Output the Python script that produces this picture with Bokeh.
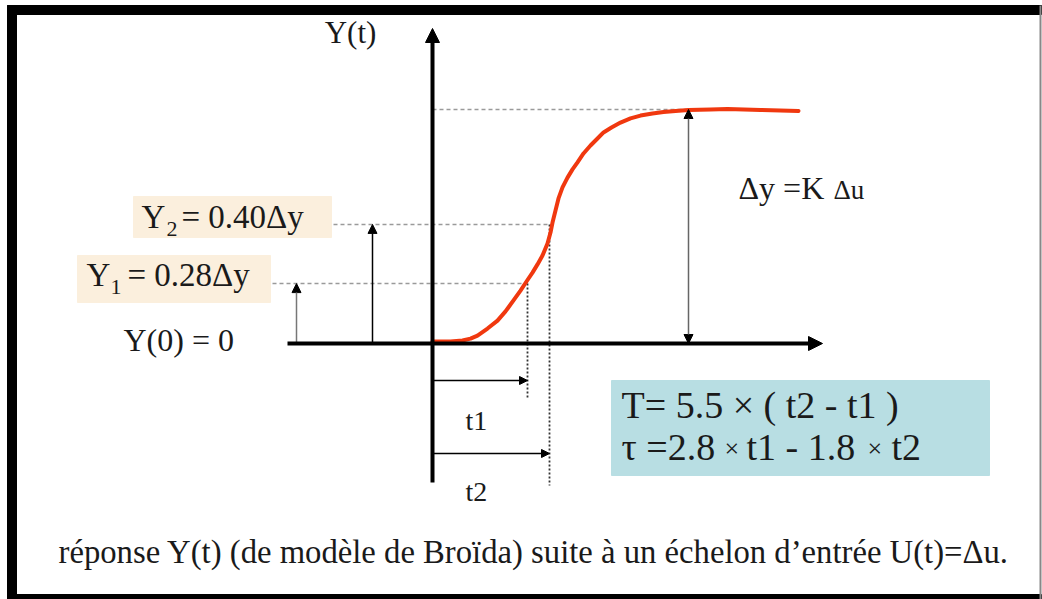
from bokeh.plotting import figure
from bokeh.models import Range1d, Arrow, NormalHead
from bokeh.core.properties import value
from bokeh.embed import file_html
from bokeh.resources import INLINE

# ---------------- data (t in arbitrary time units, y as fraction of Δy) ----------------
t_curve = [0, 1.8, 3.0, 3.8, 4.5, 5.5, 6.5, 7.3, 8.1, 8.8, 9.4, 10.0, 10.5, 11.0, 11.5,
           11.8, 12.0, 12.3, 12.6, 13.0, 13.5, 14.0, 14.5, 15.1, 15.8, 16.5, 17.1, 17.9,
           18.8, 19.8, 20.8, 22.0, 23.1, 24.3, 25.6, 27.8, 29.5, 32.8, 36.6]
y_curve = [0.009, 0.009, 0.013, 0.021, 0.034, 0.064, 0.098, 0.137, 0.184, 0.226, 0.265,
           0.303, 0.338, 0.376, 0.427, 0.474, 0.517, 0.568, 0.620, 0.667, 0.709, 0.744,
           0.774, 0.812, 0.846, 0.876, 0.902, 0.923, 0.944, 0.962, 0.974, 0.983, 0.989,
           0.994, 0.998, 1.0, 1.002, 0.998, 0.994]
t1_val, t2_val = 9.5, 11.7
y1_level, y2_level, dy_level = 0.256, 0.509, 1.0

label_yt = "Y(t)"
label_y0 = "Y(0) = 0"
label_y1 = ["Y", "1", "= 0.28\u0394y"]
label_y2 = ["Y", "2", "= 0.40\u0394y"]
label_t1, label_t2 = "t1", "t2"
label_dy = ["\u0394y =K", "\u0394u"]
formula_1 = "T= 5.5 \u00d7 ( t2 - t1 )"
formula_2 = ["\u03c4 =2.8", "\u00d7", "t1 - 1.8", "\u00d7", "t2"]
caption = "réponse Y(t) (de modèle de Broïda) suite à un échelon d\u2019entrée U(t)=\u0394u."

# ---------------- layout helpers (reference pixels -> data units) ----------------
PX, PY = 10.0, 234.0
OX, OY = 432.0, 343.0
def X(px): return (px - OX) / PX
def Y(py): return (OY - py) / PY

W, H = 1042, 599
FONT = value("Liberation Serif")
INK = "#1a1a1a"

p = figure(width=W, height=H, x_range=Range1d(X(0), X(W)), y_range=Range1d(Y(H), Y(0)),
           output_backend="svg", toolbar_location=None, min_border=0,
           min_border_left=0, min_border_right=0, min_border_top=0, min_border_bottom=0)
p.xaxis.visible = False
p.yaxis.visible = False
p.grid.visible = False
p.outline_line_color = None
p.background_fill_color = "white"
p.border_fill_color = "white"

# frame
p.quad(left=[X(7)], right=[X(1041)], top=[Y(5)], bottom=[Y(14)], color="black")
p.quad(left=[X(7)], right=[X(16)], top=[Y(5)], bottom=[Y(599)], color="black")
p.quad(left=[X(7)], right=[X(1041)], top=[Y(594)], bottom=[Y(599)], color="black")
p.segment(x0=[X(1040)], y0=[Y(5)], x1=[X(1040)], y1=[Y(599)], line_color="#888888", line_width=2)

# coloured boxes
p.quad(left=[X(133)], right=[X(331)], top=[Y(196)], bottom=[Y(237)], color="#FBEFDD")
p.quad(left=[X(77)], right=[X(270)], top=[Y(255)], bottom=[Y(302)], color="#FBEFDD")
p.quad(left=[X(611)], right=[X(989)], top=[Y(380)], bottom=[Y(475)], color="#B8DEE3")

# dotted guide lines
p.segment(x0=[0, X(333), X(272)], y0=[dy_level, y2_level, y1_level],
          x1=[X(727), t2_val, t1_val], y1=[dy_level, y2_level, y1_level],
          line_color="#9a9a9a", line_width=1.5, line_dash="4 3")
p.segment(x0=[t1_val, t2_val], y0=[y1_level, y2_level], x1=[t1_val, t2_val], y1=[Y(397), Y(485)],
          line_color="#333333", line_width=1.8, line_dash="2 2")

def arrow(x0, y0, x1, y1, color, lw, size, both=False):
    head = lambda: NormalHead(size=size, fill_color="black", line_color="black", line_width=1)
    a = Arrow(x_start=x0, y_start=y0, x_end=x1, y_end=y1, line_color=color, line_width=lw,
              end=head(), start=head() if both else None)
    p.add_layout(a)

# small arrows
arrow(X(296), 0, X(296), y1_level, "#777777", 1.5, 9)
arrow(X(372), 0, X(372), y2_level, "black", 1.5, 9)
arrow(X(688), 0, X(688), dy_level, "#666666", 1.5, 9, both=True)
arrow(0, Y(380), t1_val, Y(380), "black", 1.5, 8)
arrow(0, Y(453), t2_val, Y(453), "black", 1.5, 8)

# main axes
arrow(0, Y(482), 0, Y(28), "black", 4, 14)
arrow(X(287), 0, X(822), 0, "black", 4, 14)

# response curve
p.line(t_curve, y_curve, line_color="#F0380F", line_width=4, line_join="round", line_cap="round")

def txt(px, baseline_py, s, size, align="left"):
    # baseline_py: desired baseline in reference pixels; compensate renderer offset
    y_adj = baseline_py - 0.4 * size
    p.text(x=[X(px)], y=[Y(y_adj)], text=[s], text_font=FONT, text_font_size=f"{size}px",
           text_color=INK, text_align=align, text_baseline="alphabetic")

txt(350, 44, label_yt, 31, align="center")
txt(123, 352, label_y0, 32)
txt(141, 230, label_y2[0], 33)
txt(166, 237, label_y2[1], 22)
txt(181, 230, label_y2[2], 33)
txt(86, 288, label_y1[0], 33)
txt(110, 295, label_y1[1], 22)
txt(127, 288, label_y1[2], 33)
txt(465, 431, label_t1, 28)
txt(465, 502, label_t2, 28)
txt(738, 200, label_dy[0], 32)
txt(833, 200, label_dy[1], 27)
txt(621, 420, formula_1, 38)
# second formula line with smaller, raised multiplication signs
f2_x = [621, 724, 746, 867, 891]
f2_size = [38, 26, 38, 26, 38]
f2_base = [462, 458, 462, 458, 462]
for xx, s, sz, bb in zip(f2_x, formula_2, f2_size, f2_base):
    txt(xx, bb, s, sz)
txt(58, 565, caption, 32.7)

open("out.html", "w").write(file_html(p, INLINE))
